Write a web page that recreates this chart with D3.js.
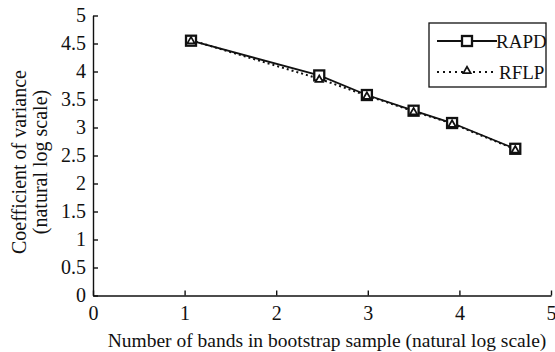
<!DOCTYPE html>
<meta charset="utf-8">
<style>
body { margin: 0; background: #fff; }
text { font-family: "Liberation Serif", "Times New Roman", serif; fill: #111; }
.axis path, .axis line { stroke: #111; stroke-width: 1.4px; }
</style>
<svg width="555" height="352"></svg>
<script src="https://d3js.org/d3.v7.min.js"></script>
<script>
// bands (ln) vs coefficient of variance (ln)
const bands = [1.07, 2.47, 2.99, 3.50, 3.92, 4.61];
const rapd = [4.55, 3.93, 3.58, 3.30, 3.08, 2.62];
const rflp = [4.56, 3.87, 3.57, 3.29, 3.07, 2.61];
const xTicks = [0, 1, 2, 3, 4, 5];
const yTicks = [0, 0.5, 1, 1.5, 2, 2.5, 3, 3.5, 4, 4.5, 5];

const svg = d3.select("svg");
const x = d3.scaleLinear().domain([0, 5]).range([93, 551]);
const y = d3.scaleLinear().domain([0, 5]).range([295.5, 15.5]);
const fmt = d3.format("~g");

svg.append("g").attr("class", "axis")
    .attr("transform", "translate(0," + y(0) + ")")
    .call(d3.axisBottom(x).tickValues(xTicks).tickFormat(fmt)
        .tickSizeInner(-5).tickSizeOuter(0).tickPadding(10))
    .call(g => g.attr("font-family", null).selectAll("text").attr("font-size", 20).attr("fill", "#111"));

svg.append("g").attr("class", "axis")
    .attr("transform", "translate(" + x(0) + ",0)")
    .call(d3.axisLeft(y).tickValues(yTicks).tickFormat(fmt)
        .tickSizeInner(-5).tickSizeOuter(0).tickPadding(7))
    .call(g => g.attr("font-family", null).selectAll("text").attr("font-size", 20).attr("fill", "#111"));

svg.append("text").attr("x", 327).attr("y", 347).attr("text-anchor", "middle")
    .attr("font-size", 19.5).text("Number of bands in bootstrap sample (natural log scale)");

const yl = svg.append("g").attr("transform", "translate(0,162) rotate(-90)");
yl.append("text").attr("x", 0).attr("y", 26).attr("text-anchor", "middle")
    .attr("font-size", 20).text("Coefficient of variance");
yl.append("text").attr("x", 0).attr("y", 47).attr("text-anchor", "middle")
    .attr("font-size", 20).text("(natural log scale)");

const line = d3.line().x(d => x(d[0])).y(d => y(d[1]));
const rflpPts = bands.map((b, i) => [b, rflp[i]]);
const rapdPts = bands.map((b, i) => [b, rapd[i]]);

svg.append("path").datum(rflpPts).attr("d", line).attr("fill", "none")
    .attr("stroke", "#111").attr("stroke-width", 2).attr("stroke-dasharray", "2,3");
svg.append("path").datum(rapdPts).attr("d", line).attr("fill", "none")
    .attr("stroke", "#111").attr("stroke-width", 1.8);

const tri = d3.symbol().type(d3.symbolTriangle).size(24);

svg.selectAll(".sq").data(rapdPts).enter().append("rect")
    .attr("x", d => x(d[0]) - 5).attr("y", d => y(d[1]) - 5)
    .attr("width", 10).attr("height", 10)
    .attr("fill", "#fff").attr("stroke", "#111").attr("stroke-width", 2.3);
svg.selectAll(".tr").data(rflpPts).enter().append("path")
    .attr("d", tri).attr("transform", d => "translate(" + x(d[0]) + "," + (y(d[1]) + 1) + ")")
    .attr("fill", "#fff").attr("stroke", "#111").attr("stroke-width", 1.7);

// legend
const lg = svg.append("g");
lg.append("rect").attr("x", 429).attr("y", 23).attr("width", 117).attr("height", 64)
    .attr("fill", "#fff").attr("stroke", "#111").attr("stroke-width", 1.3);
lg.append("line").attr("x1", 437).attr("x2", 497).attr("y1", 41).attr("y2", 41)
    .attr("stroke", "#111").attr("stroke-width", 1.8);
lg.append("rect").attr("x", 462).attr("y", 36).attr("width", 10).attr("height", 10)
    .attr("fill", "#fff").attr("stroke", "#111").attr("stroke-width", 2.3);
lg.append("text").attr("x", 496).attr("y", 47.5).attr("font-size", 19).text("RAPD");
lg.append("line").attr("x1", 437).attr("x2", 497).attr("y1", 72).attr("y2", 72)
    .attr("stroke", "#111").attr("stroke-width", 2).attr("stroke-dasharray", "2,4");
lg.append("path").attr("d", tri).attr("transform", "translate(467,71)")
    .attr("fill", "#fff").attr("stroke", "#111").attr("stroke-width", 1.7);
lg.append("text").attr("x", 499).attr("y", 78.5).attr("font-size", 19).text("RFLP");
</script>
